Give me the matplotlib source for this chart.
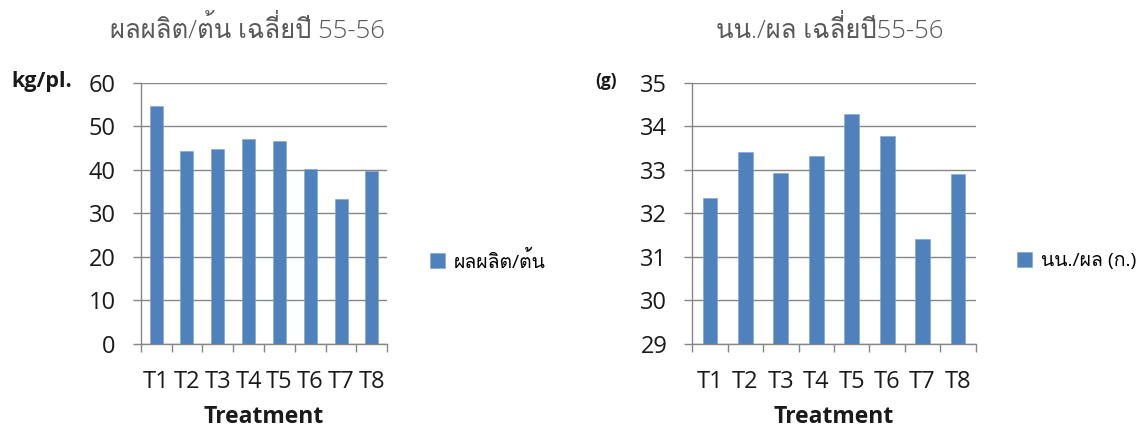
import numpy as np
import matplotlib
matplotlib.use("Agg")
import matplotlib.pyplot as plt
from matplotlib import font_manager
from matplotlib.ft2font import FT2Font

# ---- data ----
treatments = ["T1", "T2", "T3", "T4", "T5", "T6", "T7", "T8"]
yield_per_tree = [54.7, 44.4, 44.7, 47.0, 46.7, 40.1, 33.2, 39.7]      # kg/plant
fruit_weight = [32.35, 33.40, 32.92, 33.31, 34.28, 33.78, 31.40, 32.90]  # g/fruit

yield_title = "ผลผลิต/ต้น เฉลี่ยปี 55-56"
weight_title = "นน./ผล เฉลี่ยปี55-56"
yield_label = "ผลผลิต/ต้น"
weight_label = "นน./ผล (ก.)"

BAR = "#4F81BD"
GRID = "#868686"


def find_thai_family():
    """Return the first installed family that has Thai glyphs."""
    for entry in font_manager.fontManager.ttflist:
        try:
            if ord("ผ") in FT2Font(entry.fname).get_charmap():
                return entry.name
        except Exception:
            continue
    return None


thai = find_thai_family()
families = ["Open Sans"] + ([thai] if thai else []) + ["DejaVu Sans"]
plt.rcParams["font.family"] = families

W, H = 1136, 432
fig = plt.figure(figsize=(W / 100, H / 100), dpi=100)


def px_axes(x0, x1, ytop, ybot):
    return fig.add_axes([x0 / W, (H - ybot) / H, (x1 - x0) / W, (ybot - ytop) / H])


def style_axes(ax, values, ylim, step, legend_label, legend_x):
    x = np.arange(len(treatments))
    ax.bar(x, values, width=0.42, color=BAR, edgecolor="#7FA3D1", linewidth=0.4,
           label=legend_label, zorder=3)
    ax.set_xlim(-0.5, len(treatments) - 0.5)
    ax.set_ylim(*ylim)
    ax.set_yticks(np.arange(ylim[0], ylim[1] + step / 2, step))
    ax.set_xticks(x)
    ax.set_xticklabels(treatments)
    ax.set_xticks(np.arange(-0.5, len(treatments)), minor=True)
    ax.yaxis.grid(True, color=GRID, linewidth=1.0, zorder=0)
    ax.set_axisbelow(True)
    for side in ("top", "right"):
        ax.spines[side].set_visible(False)
    for side in ("left", "bottom"):
        ax.spines[side].set_color(GRID)
        ax.spines[side].set_linewidth(1.0)
    ax.tick_params(axis="y", length=6, width=1.0, color=GRID, pad=12,
                   labelsize=17, labelcolor="#1a1a1a")
    ax.tick_params(axis="x", which="major", length=0, pad=18.5, labelsize=17,
                   labelcolor="#1a1a1a")
    ax.tick_params(axis="x", which="minor", length=6, width=1.0, color=GRID)
    ax.legend(loc="center left", bbox_to_anchor=(legend_x / W, (H - 261) / H),
              bbox_transform=fig.transFigure, frameon=False, fontsize=14,
              borderpad=0, borderaxespad=0, handlelength=0.78, handleheight=0.78,
              handletextpad=0.45)


ax1 = px_axes(140.7, 387.3, 82.7, 344)
style_axes(ax1, yield_per_tree, (0, 60), 10, yield_label, 430)

ax2 = px_axes(692.3, 975.7, 82.7, 344)
style_axes(ax2, fruit_weight, (29, 35), 1, weight_label, 1017)

# titles
fig.text(247 / W, (H - 30) / H, yield_title, ha="center", va="center",
         fontsize=18.5, color="#595959", fontweight="light")
fig.text(830 / W, (H - 30) / H, weight_title, ha="center", va="center",
         fontsize=18.5, color="#595959", fontweight="light")

# axis unit labels
fig.text(11 / W, (H - 81) / H, "kg/pl.", ha="left", va="center",
         fontsize=15.5, fontweight="bold", color="#1a1a1a")
fig.text(595 / W, (H - 81) / H, "(g)", ha="left", va="center",
         fontsize=12.5, fontweight="bold", color="#1a1a1a")

# x axis titles
fig.text(264 / W, (H - 417) / H, "Treatment", ha="center", va="center",
         fontsize=16.5, fontweight="bold", color="#1a1a1a")
fig.text(834 / W, (H - 417) / H, "Treatment", ha="center", va="center",
         fontsize=16.5, fontweight="bold", color="#1a1a1a")

fig.savefig("out.png", dpi=100, facecolor="white")
